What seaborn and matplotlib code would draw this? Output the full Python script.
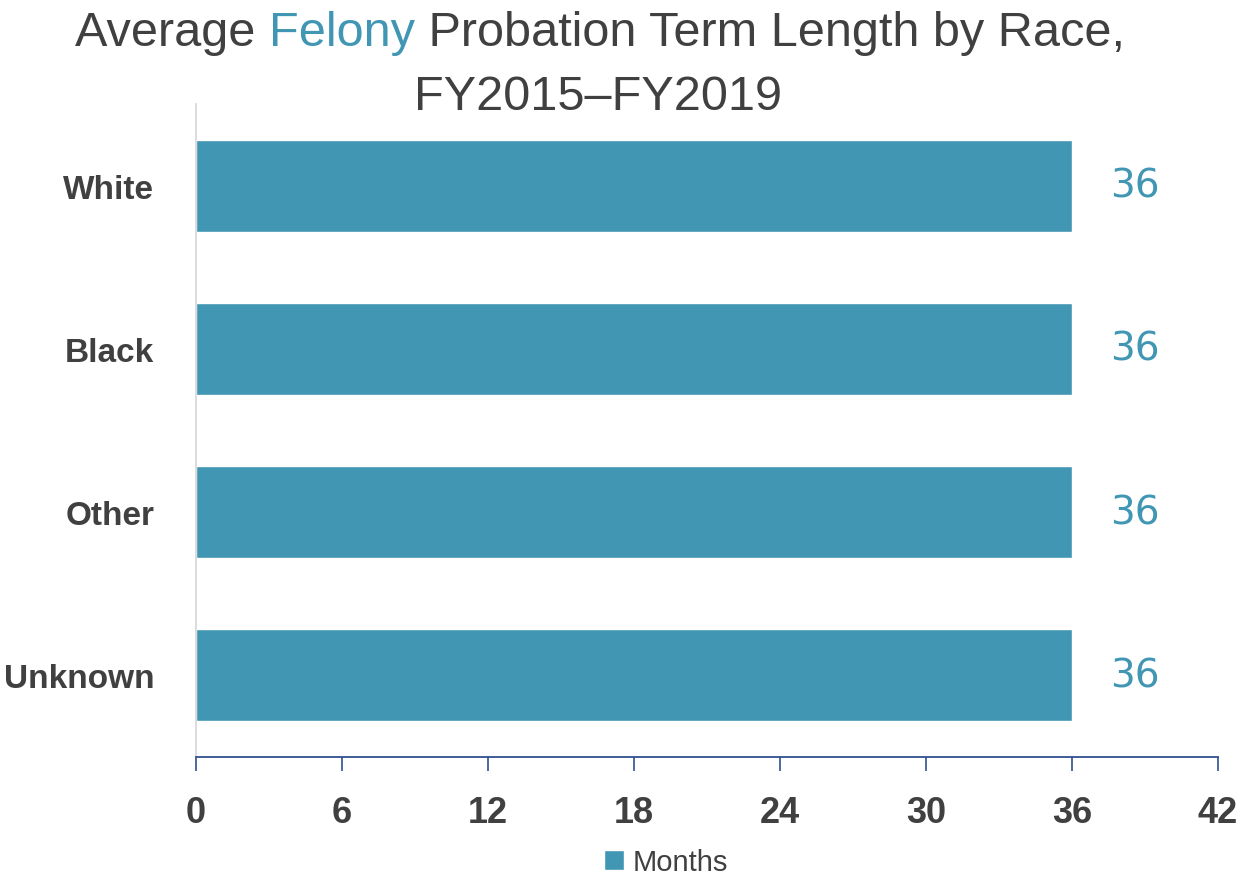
import matplotlib
matplotlib.use('Agg')
import matplotlib.pyplot as plt
import seaborn as sns
import pandas as pd

races = ['White', 'Black', 'Other', 'Unknown']
months = [36, 36, 36, 36]
x_ticks = [0, 6, 12, 18, 24, 30, 36, 42]

bar_color = '#4196b4'
text_color = '#404040'

sns.set_style("white")
plt.rcParams['font.family'] = ['Liberation Sans', 'DejaVu Sans']

df = pd.DataFrame({'race': races, 'months': months})

fig = plt.figure(figsize=(12.44, 8.79), dpi=100)
ax = fig.add_axes([0.1576, 0.1382, 0.8215, 0.7418])
sns.barplot(data=df, y='race', x='months', color=bar_color, width=0.565,
            saturation=1, ax=ax, label='Months')

ax.set_xlim(0, 42)
ax.set_ylim(3.5, -0.5)
ax.set_xticks(x_ticks)
ax.set_xticklabels([str(t) for t in x_ticks], fontsize=26, fontweight='bold',
                   color=text_color)
ax.tick_params(axis='x', direction='out', length=10, width=1.2, color='#2f4f8f',
               pad=18, bottom=True)
ax.tick_params(axis='y', length=0, pad=30)
for lab in ax.get_yticklabels():
    lab.set_fontsize(24)
    lab.set_fontweight('bold')
    lab.set_color(text_color)
ax.set_xlabel('')
ax.set_ylabel('')

for s in ['top', 'right']:
    ax.spines[s].set_visible(False)
ax.spines['bottom'].set_color('#2f4f8f')
ax.spines['bottom'].set_linewidth(1.3)
ax.spines['left'].set_color('#d9d9d9')
ax.spines['left'].set_linewidth(1.3)

for i, v in enumerate(months):
    ax.text(v + 2.6, i, str(v), ha='center', va='center', fontsize=28,
            color=bar_color, family='DejaVu Sans')

# title: three pieces on one line, centred as a whole
parts = [('Average ', text_color), ('Felony', bar_color),
         (' Probation Term Length by Race,', text_color)]
tsize = 35
texts = [fig.text(0, 0.962, p, ha='left', va='center', fontsize=tsize, color=c)
         for p, c in parts]
fig.canvas.draw()
r = fig.canvas.get_renderer()
widths = [t.get_window_extent(r).width / fig.bbox.width for t in texts]
x = 0.482 - sum(widths) / 2
for t, w in zip(texts, widths):
    t.set_x(x)
    x += w
fig.text(0.481, 0.889, 'FY2015\u2013FY2019', ha='center', va='center', fontsize=tsize,
         color=text_color)

leg = ax.legend(loc='upper center', bbox_to_anchor=(0.46, -0.1), frameon=False,
                fontsize=21, handlelength=0.7, handleheight=0.7, handletextpad=0.3)
for txt in leg.get_texts():
    txt.set_color(text_color)

plt.savefig('out.png', dpi=100)
